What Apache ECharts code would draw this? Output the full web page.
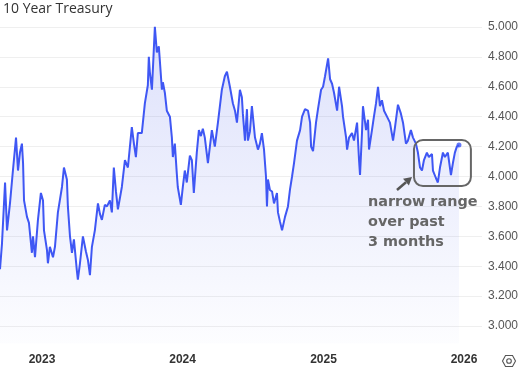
<!DOCTYPE html>
<html><head><meta charset="utf-8">
<script src="https://cdn.jsdelivr.net/npm/echarts@6/dist/echarts.min.js"></script>
<style>html,body{margin:0;padding:0;background:#fff}#c{width:525px;height:368px}</style>
</head><body><div id="c"></div>
<script>
const chartTitle = '10 Year Treasury';
// dates as decimal years, yields in percent
const dates2022 = [2022.701,2022.715,2022.737,2022.751,2022.772,2022.793,2022.815,2022.829,2022.843,2022.857,2022.865,2022.872,2022.893,2022.907,2022.928,2022.936,2022.950,2022.971,2022.992];
const yields2022 = [3.38,3.55,3.96,3.64,3.82,4.04,4.26,4.04,4.16,4.22,4.09,3.84,3.73,3.69,3.49,3.60,3.46,3.71,3.89];
const dates2023 = [2023.007,2023.014,2023.035,2023.042,2023.056,2023.078,2023.092,2023.113,2023.142,2023.156,2023.177,2023.184,2023.199,2023.213,2023.227,2023.248,2023.255,2023.270,2023.291,2023.312,2023.327,2023.341,2023.355,2023.376,2023.398,2023.412,2023.426,2023.447,2023.462,2023.483,2023.497,2023.511,2023.526,2023.540,2023.568,2023.590,2023.611,2023.639,2023.654,2023.668,2023.682,2023.710,2023.732,2023.753,2023.760,2023.767,2023.782,2023.803,2023.817,2023.831,2023.838,2023.853,2023.860,2023.874,2023.888,2023.910,2023.924,2023.931,2023.945,2023.959,2023.966,2023.988];
const yields2023 = [3.84,3.64,3.51,3.42,3.53,3.46,3.53,3.76,3.93,4.06,3.98,3.80,3.60,3.49,3.58,3.37,3.31,3.42,3.60,3.50,3.44,3.34,3.53,3.64,3.82,3.75,3.71,3.81,3.80,3.84,3.76,4.06,3.90,3.78,3.93,4.11,4.06,4.33,4.22,4.13,4.29,4.29,4.49,4.61,4.80,4.70,4.58,5.00,4.83,4.87,4.78,4.58,4.63,4.56,4.44,4.40,4.26,4.13,4.22,4.02,3.93,3.81];
const dates2024 = [2024.002,2024.016,2024.030,2024.052,2024.066,2024.080,2024.101,2024.116,2024.130,2024.144,2024.158,2024.180,2024.208,2024.229,2024.251,2024.279,2024.300,2024.315,2024.322,2024.336,2024.357,2024.372,2024.386,2024.407,2024.421,2024.428,2024.443,2024.457,2024.464,2024.478,2024.492,2024.514,2024.535,2024.549,2024.563,2024.578,2024.592,2024.599,2024.606,2024.620,2024.635,2024.649,2024.670,2024.677,2024.691,2024.706,2024.713,2024.727,2024.748,2024.762,2024.777,2024.791,2024.812,2024.834,2024.848,2024.869,2024.890,2024.905,2024.912,2024.926,2024.947,2024.961,2024.983,2024.997];
const yields2024 = [3.93,4.04,3.96,4.14,4.11,3.89,4.16,4.31,4.27,4.32,4.26,4.09,4.31,4.20,4.36,4.58,4.67,4.70,4.69,4.60,4.49,4.44,4.36,4.58,4.53,4.42,4.24,4.45,4.24,4.30,4.47,4.26,4.18,4.22,4.29,4.18,4.00,3.80,3.98,3.91,3.90,3.82,3.89,3.76,3.70,3.64,3.63,3.73,3.80,3.91,4.00,4.09,4.24,4.31,4.40,4.45,4.44,4.36,4.20,4.17,4.36,4.45,4.58,4.60];
const dates2025 = [2025.011,2025.033,2025.047,2025.061,2025.075,2025.097,2025.111,2025.132,2025.139,2025.161,2025.168,2025.182,2025.203,2025.217,2025.239,2025.253,2025.260,2025.274,2025.281,2025.303,2025.317,2025.324,2025.345,2025.359,2025.374,2025.388,2025.402,2025.416,2025.431,2025.452,2025.473,2025.495,2025.509,2025.530,2025.551,2025.566,2025.587,2025.601,2025.622,2025.637,2025.658,2025.672,2025.687,2025.701,2025.715,2025.736,2025.750,2025.772,2025.779,2025.800,2025.814,2025.829,2025.850,2025.864,2025.885,2025.907,2025.921,2025.935,2025.949,2025.964];
const yields2025 = [4.67,4.79,4.65,4.62,4.56,4.44,4.60,4.47,4.40,4.26,4.18,4.26,4.29,4.24,4.36,4.11,4.01,4.29,4.47,4.31,4.38,4.18,4.31,4.40,4.49,4.60,4.47,4.51,4.44,4.40,4.36,4.24,4.33,4.48,4.42,4.36,4.22,4.24,4.31,4.26,4.22,4.16,4.06,4.04,4.11,4.16,4.13,4.15,4.04,3.99,3.96,4.06,4.16,4.13,4.16,4.01,4.09,4.16,4.20,4.21];
const annotationLines = ['narrow range', 'over past', '3 months'];
const boxYears = [2025.644, 2026.049];
const boxYields = [3.936, 4.244];
const arrowYears = [2025.523, 2025.630];
const arrowYields = [3.910, 3.997];
const textAnchor = [2025.317, 3.896];
const axisRange = [2022.701, 2026.128];

function toTime(dy) {
  const y = Math.floor(dy);
  const s = new Date(y, 0, 1).getTime();
  const e = new Date(y + 1, 0, 1).getTime();
  return s + (dy - y) * (e - s);
}
const allDates = dates2022.concat(dates2023, dates2024, dates2025);
const allYields = yields2022.concat(yields2023, yields2024, yields2025);
const seriesData = allDates.map((d, i) => [toTime(d), allYields[i]]);
const lastPoint = seriesData[seriesData.length - 1];

const lineColor = '#3f57f4';
const chart = echarts.init(document.getElementById('c'), null, {renderer: 'canvas'});
chart.setOption({
  animation: false,
  backgroundColor: '#ffffff',
  grid: {left: 0, right: 43, top: -3, bottom: 12, containLabel: false, outerBoundsMode: 'none'},
  xAxis: {
    type: 'time',
    min: toTime(axisRange[0]),
    max: toTime(axisRange[1]),
    axisLine: {show: false},
    axisTick: {show: false},
    splitLine: {show: false},
    axisLabel: {
      formatter: function (v) {
        const d = new Date(v);
        return (d.getMonth() === 0 && d.getDate() === 1) ? String(d.getFullYear()) : '';
      },
      color: '#333', fontSize: 12, fontWeight: 'bold', fontFamily: 'Liberation Sans, Arial, sans-serif',
      verticalAlign: 'middle', margin: 4, hideOverlap: false
    }
  },
  yAxis: {
    type: 'value',
    position: 'right',
    min: 2.8, max: 5.2, interval: 0.2,
    axisLine: {show: false},
    axisTick: {show: false},
    splitLine: {show: true, showMinLine: false, lineStyle: {color: '#efefef', width: 1}},
    axisLabel: {
      formatter: v => v.toFixed(3), showMinLabel: false,
      color: '#555', fontSize: 12, fontFamily: 'Liberation Sans, Arial, sans-serif', margin: 6
    }
  },
  series: [{
    type: 'line',
    data: seriesData,
    showSymbol: false,
    lineStyle: {color: lineColor, width: 2},
    areaStyle: {
      origin: 2.886,
      color: new echarts.graphic.LinearGradient(0, 0, 0, 1, [
        {offset: 0, color: 'rgba(80,100,235,0.28)'},
        {offset: 1, color: 'rgba(80,100,235,0.02)'}
      ])
    },
    z: 2
  }, {
    type: 'scatter',
    data: [lastPoint],
    symbolSize: 5,
    itemStyle: {color: lineColor},
    z: 3
  }]
});

const p = (t, v) => chart.convertToPixel({gridIndex: 0}, [toTime(t), v]);
const b0 = p(boxYears[0], boxYields[1]);
const b1 = p(boxYears[1], boxYields[0]);
const a0 = p(arrowYears[0], arrowYields[0]);
const a1 = p(arrowYears[1], arrowYields[1]);
const ang = Math.atan2(a1[1] - a0[1], a1[0] - a0[0]);
const headLen = 8, headHalf = 4.5;
const base = [a1[0] - headLen * Math.cos(ang), a1[1] - headLen * Math.sin(ang)];
const perp = [-Math.sin(ang), Math.cos(ang)];
const tp = p(textAnchor[0], textAnchor[1]);
const ic = [509, 361];

chart.setOption({
  graphic: [
    {type: 'text', left: 3, top: 2, style: {text: chartTitle, font: '14px "Open Sans", sans-serif', fill: '#333'}},
    {type: 'rect', shape: {x: b0[0], y: b0[1], width: b1[0] - b0[0], height: b1[1] - b0[1], r: 9},
      style: {fill: 'none', stroke: '#666', lineWidth: 2}, z: 10},
    {type: 'line', shape: {x1: a0[0], y1: a0[1], x2: base[0], y2: base[1]},
      style: {stroke: '#555', lineWidth: 2.5}, z: 10},
    {type: 'polygon', shape: {points: [a1,
      [base[0] + perp[0] * headHalf, base[1] + perp[1] * headHalf],
      [base[0] - perp[0] * headHalf, base[1] - perp[1] * headHalf]]},
      style: {fill: '#555'}, z: 10},
    {type: 'text', x: tp[0], y: tp[1], z: 10,
      style: {text: annotationLines.join('\n'), font: 'bold 14.4px "DejaVu Sans", sans-serif', fill: '#666', lineHeight: 20, verticalAlign: 'top'}},
    {type: 'polygon', shape: {points: [[ic[0] - 6.5, ic[1]], [ic[0] - 3.5, ic[1] - 5.5], [ic[0] + 3.5, ic[1] - 5.5], [ic[0] + 6.5, ic[1]], [ic[0] + 3.5, ic[1] + 5.5], [ic[0] - 3.5, ic[1] + 5.5]]},
      style: {fill: 'none', stroke: '#555', lineWidth: 1.1}},
    {type: 'circle', shape: {cx: ic[0], cy: ic[1], r: 2.3}, style: {fill: 'none', stroke: '#555', lineWidth: 1.1}}
  ]
});
</script>
</body></html>
